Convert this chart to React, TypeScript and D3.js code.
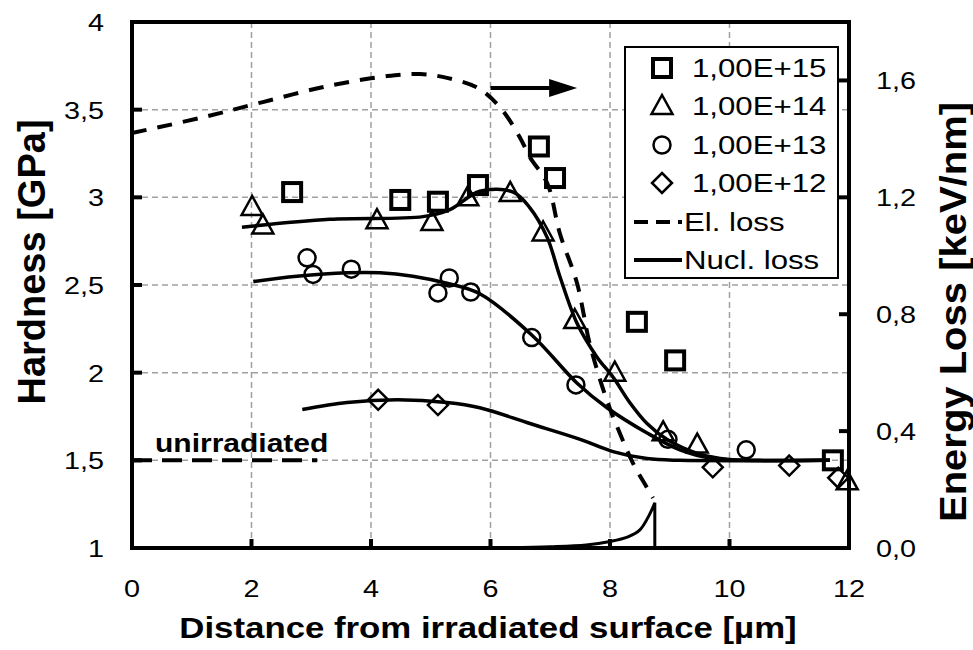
import * as d3 from "d3";

// plot frame
const W = 973;
const H = 650;
const L = 132;
const R = 849;
const T = 22;
const B = 548;
const SX = 1.2; // glyphs in the source are drawn a bit wide

const xTicks = [0, 2, 4, 6, 8, 10, 12];
const yTicks = [1, 1.5, 2, 2.5, 3, 3.5, 4];
const y2Ticks = [0, 0.4, 0.8, 1.2, 1.6];

// hardness measurements [distance µm, GPa]
const dose15: [number, number][] = [
  [2.68, 3.03], [4.49, 2.985], [5.12, 2.975], [5.79, 3.07], [6.81, 3.29],
  [7.08, 3.11], [8.45, 2.29], [9.09, 2.07], [11.73, 1.5],
];
const dose14: [number, number][] = [
  [2.01, 2.945], [2.19, 2.84], [4.1, 2.87], [5.02, 2.86], [5.62, 3.0],
  [6.33, 3.025], [6.88, 2.8], [7.41, 2.3], [8.08, 2.0], [8.89, 1.66],
  [9.46, 1.59], [11.97, 1.38],
];
const dose13: [number, number][] = [
  [2.93, 2.655], [3.03, 2.56], [3.67, 2.59], [5.12, 2.455], [5.31, 2.54],
  [5.67, 2.46], [6.69, 2.2], [7.43, 1.93], [8.97, 1.62], [10.28, 1.56],
];
const dose12: [number, number][] = [
  [4.12, 1.845], [5.12, 1.815], [9.72, 1.46], [11.0, 1.47], [11.82, 1.4],
];

// fitted trend lines
const fitHigh: [number, number][] = [
  [1.84, 2.83], [3.31, 2.875], [4.87, 2.89], [5.32, 2.93], [5.82, 3.035],
  [6.38, 3.03], [6.66, 2.94], [6.95, 2.77], [7.16, 2.55], [7.45, 2.28],
  [7.78, 2.09], [8.05, 1.975], [8.33, 1.83], [8.62, 1.71], [8.95, 1.62],
  [9.46, 1.54], [10.0, 1.505], [11.4, 1.5], [11.68, 1.5],
];
const fitMid: [number, number][] = [
  [2.03, 2.52], [2.76, 2.55], [3.6, 2.57], [4.15, 2.57], [4.7, 2.55],
  [5.27, 2.51], [5.82, 2.45], [6.69, 2.215], [7.45, 1.94], [7.95, 1.8],
  [8.62, 1.656], [9.17, 1.56], [9.72, 1.51], [10.5, 1.5], [11.68, 1.5],
];
const fitLow: [number, number][] = [
  [2.85, 1.79], [3.6, 1.83], [4.44, 1.845], [5.27, 1.83], [5.82, 1.8],
  [6.66, 1.71], [7.5, 1.62], [8.05, 1.55], [8.62, 1.51], [9.17, 1.5],
  [11.68, 1.5],
];

// energy loss [distance µm, keV/nm]
const elLoss: [number, number][] = [
  [0, 1.42], [1.19, 1.474], [2.19, 1.526], [3.26, 1.58], [4.27, 1.615],
  [4.82, 1.622], [5.29, 1.608], [5.79, 1.574], [6.16, 1.508], [6.49, 1.406],
  [6.66, 1.337], [6.95, 1.248], [7.16, 1.077], [7.45, 0.905], [7.66, 0.7],
  [7.95, 0.504], [8.17, 0.39], [8.39, 0.288], [8.62, 0.206], [8.72, 0.171],
];
const nuclLoss: [number, number][] = [
  [6.05, 0], [7.0, 0.004], [7.6, 0.01], [8.0, 0.022], [8.3, 0.038],
  [8.5, 0.062], [8.65, 0.11], [8.75, 0.155],
];
const nuclEnd = 8.75;

const unirradiated = { from: 0, to: 3.1, value: 1.5 };
const arrow = { from: 6.0, to: 7.45, value: 1.574 };

const legendItems = ["1,00E+15", "1,00E+14", "1,00E+13", "1,00E+12", "El. loss", "Nucl. loss"];

const x = d3.scaleLinear().domain([0, 12]).range([L, R]);
const y = d3.scaleLinear().domain([1, 4]).range([B, T]);
const y2 = d3.scaleLinear().domain([0, 1.8]).range([B, T]);

const fmt = (v: number) => String(v).replace(".", ",");

function Square({ cx, cy }: { cx: number; cy: number }) {
  return <rect x={cx - 9} y={cy - 9} width={18} height={18} fill="none" stroke="#000" strokeWidth={4} />;
}
function Tri({ cx, cy }: { cx: number; cy: number }) {
  const p = [[cx, cy - 11], [cx + 10.5, cy + 8], [cx - 10.5, cy + 8]];
  return <polygon points={p.map((d) => d.join(",")).join(" ")} fill="none" stroke="#000" strokeWidth={2.5} />;
}
function Circ({ cx, cy }: { cx: number; cy: number }) {
  return <circle cx={cx} cy={cy} r={8.5} fill="none" stroke="#000" strokeWidth={2.5} />;
}
function Diam({ cx, cy }: { cx: number; cy: number }) {
  const p = [[cx, cy - 10], [cx + 10, cy], [cx, cy + 10], [cx - 10, cy]];
  return <polygon points={p.map((d) => d.join(",")).join(" ")} fill="none" stroke="#000" strokeWidth={2.5} />;
}

function Txt({
  x0, y0, size, bold, anchor, rot, sx, children,
}: {
  x0: number; y0: number; size: number; bold?: boolean; anchor?: string; rot?: boolean; sx?: number; children: string;
}) {
  return (
    <text
      transform={`translate(${x0},${y0}) scale(${sx ?? SX},1)${rot ? " rotate(-90)" : ""}`}
      fontSize={size}
      fontWeight={bold ? "bold" : "normal"}
      textAnchor={anchor || "start"}
      fontFamily="Liberation Sans, Arial, sans-serif"
      fill="#000"
    >
      {children}
    </text>
  );
}

export default function App() {
  const line = d3
    .line<[number, number]>()
    .x((d) => x(d[0]))
    .y((d) => y(d[1]))
    .curve(d3.curveCatmullRom.alpha(0.5));
  const line2 = d3
    .line<[number, number]>()
    .x((d) => x(d[0]))
    .y((d) => y2(d[1]))
    .curve(d3.curveCatmullRom.alpha(0.5));

  const legX = 625;
  const legY = 47;
  const rowY = [68, 106, 145, 183, 222, 260];

  return (
    <svg
      width={W}
      height={H}
      style={{ position: "absolute", left: 0, top: 0, background: "#fff" }}
    >
      <rect width={W} height={H} fill="#fff" />

      {/* grid */}
      {xTicks.slice(1, -1).map((t) => (
        <line key={"gx" + t} x1={x(t)} x2={x(t)} y1={T} y2={B} stroke="#a0a0a0" strokeWidth={1.5} strokeDasharray="6 4" />
      ))}
      {yTicks.slice(1, -1).map((t) => (
        <line key={"gy" + t} x1={L} x2={R} y1={y(t)} y2={y(t)} stroke="#a0a0a0" strokeWidth={1.5} strokeDasharray="6 4" />
      ))}

      {/* unirradiated reference */}
      <line
        x1={x(unirradiated.from)} x2={x(unirradiated.to)}
        y1={y(unirradiated.value)} y2={y(unirradiated.value)}
        stroke="#000" strokeWidth={4} strokeDasharray="20 10"
      />
      <Txt x0={155} y0={452} size={25} bold>unirradiated</Txt>

      {/* energy loss curves */}
      <path d={line2(elLoss) || ""} fill="none" stroke="#000" strokeWidth={4} strokeDasharray="15 11" />
      <path d={(line2(nuclLoss) || "") + `L${x(nuclEnd)},${y2(0)}`} fill="none" stroke="#000" strokeWidth={3} />

      {/* fits */}
      {[fitHigh, fitMid, fitLow].map((f, i) => (
        <path key={"f" + i} d={line(f) || ""} fill="none" stroke="#000" strokeWidth={3.5} />
      ))}

      {/* markers */}
      {dose12.map((d, i) => <Diam key={"d" + i} cx={x(d[0])} cy={y(d[1])} />)}
      {dose13.map((d, i) => <Circ key={"c" + i} cx={x(d[0])} cy={y(d[1])} />)}
      {dose14.map((d, i) => <Tri key={"t" + i} cx={x(d[0])} cy={y(d[1])} />)}
      {dose15.map((d, i) => <Square key={"s" + i} cx={x(d[0])} cy={y(d[1])} />)}

      {/* arrow */}
      <line x1={x(arrow.from)} x2={x(arrow.to) - 22} y1={y2(arrow.value)} y2={y2(arrow.value)} stroke="#000" strokeWidth={4} />
      <polygon
        points={`${x(arrow.to)},${y2(arrow.value)} ${x(arrow.to) - 28},${y2(arrow.value) - 9} ${x(arrow.to) - 28},${y2(arrow.value) + 9}`}
        fill="#000"
      />

      {/* legend */}
      <rect x={legX} y={legY} width={213} height={231} fill="#fff" stroke="#000" strokeWidth={2} />
      <Square cx={662} cy={rowY[0]} />
      <Tri cx={662} cy={rowY[1]} />
      <Circ cx={662} cy={rowY[2]} />
      <Diam cx={662} cy={rowY[3]} />
      <line x1={634} x2={682} y1={rowY[4]} y2={rowY[4]} stroke="#000" strokeWidth={4} strokeDasharray="14 8" />
      <line x1={634} x2={682} y1={rowY[5]} y2={rowY[5]} stroke="#000" strokeWidth={4} />
      {legendItems.map((s, i) => (
        <Txt key={s} x0={i < 4 ? 692 : 684} y0={rowY[i] + 9} size={26}>{s}</Txt>
      ))}

      {/* frame */}
      <rect x={L} y={T} width={R - L} height={B - T} fill="none" stroke="#000" strokeWidth={4} />

      {/* ticks */}
      {yTicks.slice(1, -1).map((t) => (
        <line key={"ty" + t} x1={L} x2={L + 10} y1={y(t)} y2={y(t)} stroke="#000" strokeWidth={4} />
      ))}
      {xTicks.slice(1, -1).map((t) => (
        <line key={"tx" + t} x1={x(t)} x2={x(t)} y1={B} y2={B - 9} stroke="#000" strokeWidth={4} />
      ))}
      {y2Ticks.slice(1).map((t) => (
        <line key={"ty2" + t} x1={R} x2={R - 10} y1={y2(t)} y2={y2(t)} stroke="#000" strokeWidth={4} />
      ))}

      {/* tick labels */}
      {yTicks.map((t) => (
        <Txt key={"ly" + t} x0={104} y0={y(t) + 9} size={24} anchor="end">{fmt(t)}</Txt>
      ))}
      {xTicks.map((t) => (
        <Txt key={"lx" + t} x0={x(t)} y0={597} size={24} anchor="middle">{fmt(t)}</Txt>
      ))}
      {y2Ticks.map((t) => (
        <Txt key={"ly2" + t} x0={876} y0={y2(t) + 9} size={24}>{t.toFixed(1).replace(".", ",")}</Txt>
      ))}

      {/* axis titles */}
      <Txt x0={488} y0={638} size={29} bold anchor="middle">Distance from irradiated surface [µm]</Txt>
      <Txt x0={45} y0={262} size={38} bold anchor="middle" rot sx={1.0}>Hardness [GPa]</Txt>
      <Txt x0={966} y0={312} size={40} bold anchor="middle" rot sx={0.92}>Energy Loss [keV/nm]</Txt>
    </svg>
  );
}
